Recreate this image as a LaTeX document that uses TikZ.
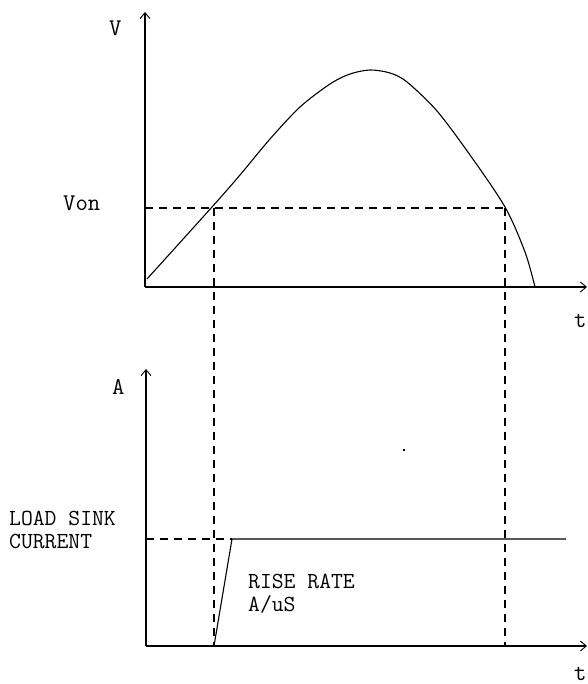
\documentclass[tikz,border=0pt]{standalone}
\usetikzlibrary{arrows.meta}
\begin{document}
\begin{tikzpicture}[x=1pt,y=-1pt,
  axis/.style={line width=1.4pt,-{Straight Barb[length=6pt,width=10pt,line width=0.9pt]}},
  guide/.style={line width=1.3pt,dash pattern=on 8pt off 6pt},
  wave/.style={line width=1.1pt},
  lbl/.style={font=\fontsize{23}{23}\ttfamily,inner sep=0pt,align=left},
  big/.style={font=\fontsize{24}{25}\ttfamily,inner sep=0pt},
]
\useasboundingbox (0,0) rectangle (587,684);
% upper graph
\coordinate (O1) at (145,287);
\coordinate (Vtop) at (145,12);
\coordinate (T1) at (587,287);
\draw[axis] (O1) -- (Vtop);
\draw[axis] (O1) -- (T1);
\node[big,anchor=base west] (Vlbl) at (109,36) {V};
\node[big,anchor=base west] (Von) at (63,211) {Von};
\node[big,anchor=base west] (t1) at (574,327) {t};
\coordinate (P2) at (505,208);
\coordinate (VonAxis) at (145,208);
\draw[wave] plot[smooth,tension=0.5] coordinates {(147,279) (212,207) (240,175) (270,139) (300,107) (330,84) (350,74) (370,70) (390,73) (407,82) (437,111) (470,155) (505,207) (525,252) (535,287)};
\draw[guide] (VonAxis) -- (P2);
% lower graph
\coordinate (O2) at (146,646);
\coordinate (Atop) at (146,369);
\coordinate (T2) at (587,646);
\draw[axis] (O2) -- (Atop);
\draw[axis] (O2) -- (T2);
\node[big,anchor=base west] (Albl) at (112,394) {A};
\node[big,anchor=base west] (t2) at (574,680) {t};
\coordinate (R0) at (214,646);
\coordinate (R1) at (232,539);
\coordinate (Lend) at (566,539);
\coordinate (LAxis) at (146,539);
\coordinate (Q1) at (214,208);
\coordinate (Q2) at (505,646);
\draw[guide] (Q1) -- (R0);
\draw[guide] (P2) -- (Q2);
\draw[guide] (LAxis) -- (R1);
\draw[wave] (R0) -- (R1) -- (Lend);
\node[lbl,anchor=north west] (load) at (9,511) {LOAD SINK\\CURRENT};
\node[lbl,anchor=north west] (rise) at (248,574) {RISE RATE\\A/uS};
\fill (403,449) rectangle (405,451);
\end{tikzpicture}
\end{document}
